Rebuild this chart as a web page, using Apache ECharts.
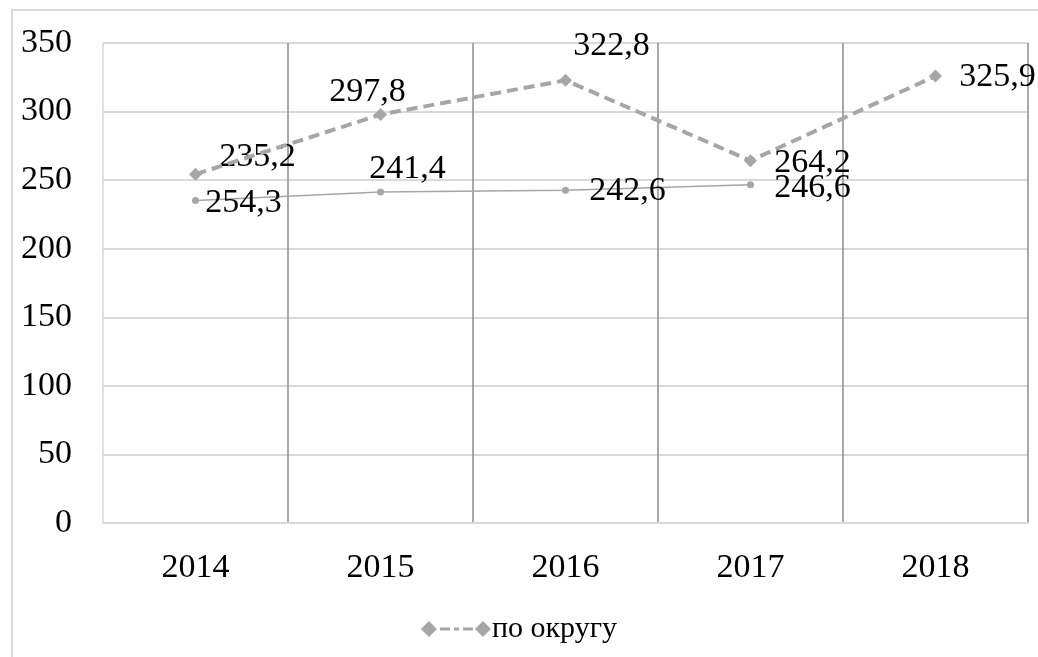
<!DOCTYPE html>
<html>
<head>
<meta charset="utf-8">
<script src="https://cdn.jsdelivr.net/npm/echarts@6/dist/echarts.min.js"></script>
<style>
  html, body { margin: 0; padding: 0; background: #fff; }
  #chart { width: 1038px; height: 657px; }
</style>
</head>
<body>
<div id="chart"></div>
<script>
// Years on the category axis
const years = ['2014', '2015', '2016', '2017', '2018'];
// District series (dashed, diamonds)
const okrugValues = [254.3, 297.8, 322.8, 264.2, 325.9];
// Second series (thin solid line), no value for 2018
const secondValues = [235.2, 241.4, 242.6, 246.6, null];
// Value axis ticks
const yTicks = [0, 50, 100, 150, 200, 250, 300, 350];

const okrugName = 'по округу';
const secondName = 'район';

// Label placement relative to each point (centre of text from point centre)
const okrugLabelShift = [[48, 29], [-13, -23], [46, -34], [62, 2], [62, 1]];
const secondLabelShift = [[62, -43], [27, -23], [62, 1], [62, 3], [0, 0]];

const FONT = '"Liberation Serif", "Times New Roman", serif';
const fmt = v => String(v.toFixed(1)).replace('.', ',');

function withLabels(values, shifts) {
  return values.map((v, i) => v == null ? null : {
    value: v,
    label: { position: 'inside', offset: shifts[i] }
  });
}

const chart = echarts.init(document.getElementById('chart'), null, { renderer: 'canvas' });

// Legend marker: diamond, dashes with a dot, diamond
const legendIcon = 'path://M0,8L8,0L16,8L8,16Z M19,6.5h10v3h-10Z M33,6.5h5v3h-5Z M42,6.5h10v3h-10Z M54,8L62,0L70,8L62,16Z';

chart.setOption({
  backgroundColor: '#ffffff',
  animation: false,
  graphic: [{
    type: 'rect',
    shape: { x: 12, y: 10, width: 1040, height: 660 },
    style: { fill: 'none', stroke: '#d9d9d9', lineWidth: 2 },
    silent: true,
    z: -10
  }],
  grid: { left: 103, right: 10, top: 43, bottom: 134, containLabel: false },
  legend: {
    data: [okrugName],
    bottom: 8,
    left: 'center',
    icon: legendIcon,
    itemWidth: 70,
    itemHeight: 16,
    itemGap: 0,
    textStyle: { fontFamily: FONT, fontSize: 30, color: '#000', padding: [0, 0, 0, -4] }
  },
  xAxis: {
    type: 'category',
    data: years,
    boundaryGap: true,
    axisLine: { lineStyle: { color: '#d9d9d9', width: 2 } },
    axisTick: { show: false },
    axisLabel: { fontFamily: FONT, fontSize: 34, color: '#000', margin: 28 },
    splitLine: {
      show: true,
      interval: 0,
      lineStyle: { color: ['#d9d9d9', '#8c8c8c', '#8c8c8c', '#8c8c8c', '#8c8c8c', '#8c8c8c'], width: 1.5 }
    }
  },
  yAxis: {
    type: 'value',
    min: yTicks[0],
    max: yTicks[yTicks.length - 1],
    interval: yTicks[1] - yTicks[0],
    axisLine: { show: false },
    axisTick: { show: false },
    axisLabel: { fontFamily: FONT, fontSize: 34, color: '#000', margin: 31 },
    splitLine: { lineStyle: { color: '#d9d9d9', width: 2 } }
  },
  series: [
    {
      name: secondName,
      type: 'line',
      data: withLabels(secondValues, secondLabelShift),
      symbol: 'circle',
      symbolSize: 7,
      lineStyle: { color: '#a6a6a6', width: 1.5 },
      itemStyle: { color: '#a6a6a6' },
      label: {
        show: true,
        fontFamily: FONT, fontSize: 34, color: '#000',
        formatter: p => fmt(p.value)
      },
      z: 3
    },
    {
      name: okrugName,
      type: 'line',
      data: withLabels(okrugValues, okrugLabelShift),
      symbol: 'diamond',
      symbolSize: 13,
      lineStyle: { color: '#a6a6a6', width: 4, type: [11, 6] },
      itemStyle: { color: '#a6a6a6' },
      label: {
        show: true,
        fontFamily: FONT, fontSize: 34, color: '#000',
        formatter: p => fmt(p.value)
      },
      z: 4
    }
  ]
});
</script>
</body>
</html>
